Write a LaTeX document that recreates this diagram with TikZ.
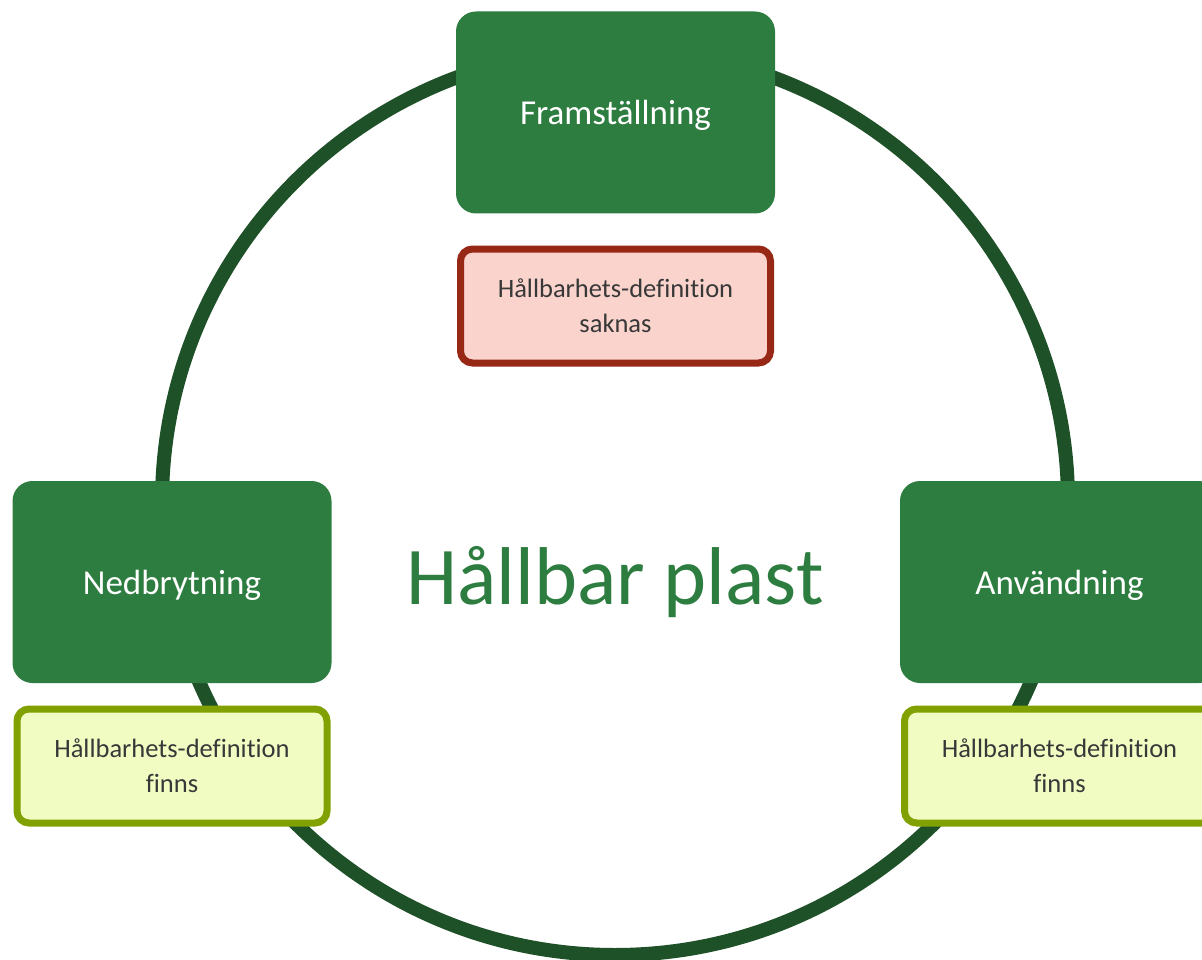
\documentclass[tikz,border=0pt]{standalone}
\usepackage{fontspec}
\setmainfont{Carlito}[Ligatures=NoCommon]
\definecolor{ring}{HTML}{1F5129}
\definecolor{boxgreen}{HTML}{2E7D40}
\definecolor{redline}{HTML}{982816}
\definecolor{redfill}{HTML}{F9D3CC}
\definecolor{limeline}{HTML}{80A100}
\definecolor{limefill}{HTML}{F1FCC3}
\definecolor{txtgray}{HTML}{383838}
\newcommand{\lowered}[1]{\raisebox{-3pt}[\height][\depth]{#1}}
\tikzset{
  stage/.style={fill=boxgreen, draw=none, rounded corners=20pt, minimum width=319pt, minimum height=202pt, inner sep=0pt, text=white, font=\fontsize{35}{42}\selectfont},
  note/.style={line width=7pt, rounded corners=12pt, minimum width=310pt, minimum height=114pt, inner sep=0pt, text=txtgray, align=center, font=\fontsize{26.5}{35}\selectfont},
  missing/.style={note, draw=redline, fill=redfill},
  present/.style={note, draw=limeline, fill=limefill},
}
\begin{document}
\begin{tikzpicture}[x=1pt,y=-1pt]
\useasboundingbox (0,0) rectangle (1202,960);
\clip (0,0) rectangle (1202,960);
\fill[white] (0,0) rectangle (1202,960);
\coordinate (c) at (615,502);
\draw[ring, line width=14pt] (c) circle[radius=453pt];
\node[stage] (fram) at (615.5,112.5) {\lowered{Framställning}};
\node[missing] (fdef) at (615.5,306) {Hållbarhets-definition\\saknas};
\node[stage] (ned) at (172,582) {\lowered{Nedbrytning}};
\node[present] (ndef) at (172,766) {Hållbarhets-definition\\finns};
\node[stage] (anv) at (1059.5,582) {\lowered{Användning}};
\node[present] (adef) at (1059.5,766) {Hållbarhets-definition\\finns};
\node[text=boxgreen, font=\fontsize{82}{90}\selectfont] (title) at (c |- 0,582) {Hållbar plast};
\end{tikzpicture}
\end{document}
